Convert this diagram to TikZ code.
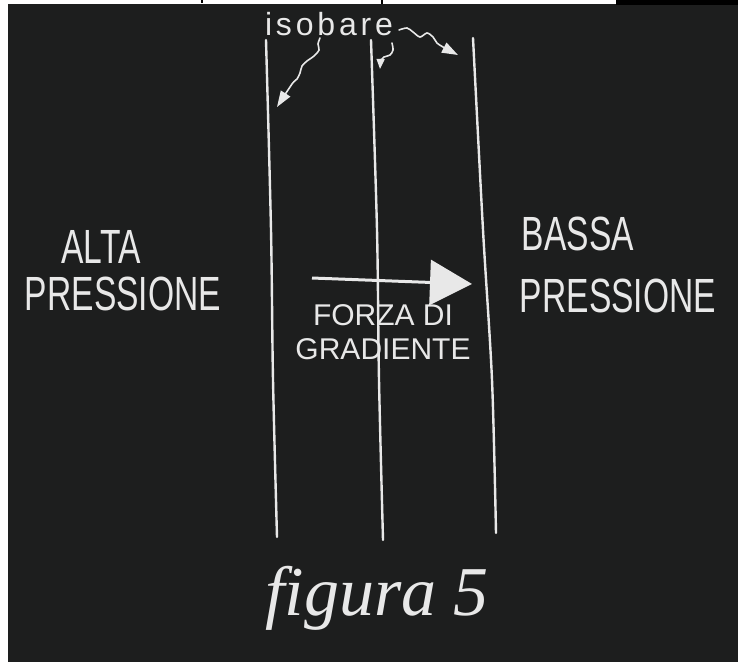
\documentclass[tikz,border=0pt]{standalone}
\usepackage{fontspec}
\usetikzlibrary{arrows.meta}
\newfontfamily\gesso[FakeStretch=0.7]{Liberation Sans}
\newfontfamily\gessopieno{Liberation Sans}
\newfontfamily\gessolargo[LetterSpace=12]{Liberation Sans}
\newfontfamily\corsivo{Liberation Serif}
\definecolor{lavagna}{RGB}{29,30,30}
\definecolor{gessetto}{RGB}{232,232,232}

\begin{document}
\begin{tikzpicture}[x=1pt, y=-1pt]
  \tikzstyle{isobara}=[draw=gessetto, line width=2.4pt, line cap=round]
  \tikzstyle{ricciolo}=[draw=gessetto, line width=1.6pt, line cap=round, -{Triangle[length=16pt,width=11pt]}]
  \tikzstyle{scritta}=[text=gessetto, inner sep=0pt, anchor=base, font=\gesso\fontsize{48}{48}\selectfont]

  % lavagna e bordi
  \fill[lavagna] (0,0) rectangle (738,662);
  \useasboundingbox (0,0) rectangle (738,662);
  \fill[white] (0,0) rectangle (8,662);
  \fill[white] (8,0) rectangle (616,4);
  \fill[black] (616,0) rectangle (738,5);
  \fill[black] (201,0) rectangle (203,3); \fill[black] (381,0) rectangle (383,4);

  % le tre isobare
  \draw[isobara] plot[smooth] coordinates {(266,40) (271,230) (273,380) (277,537)};
  \draw[isobara] plot[smooth] coordinates {(371,40) (377,230) (379,380) (383,540)};
  \draw[isobara] plot[smooth] coordinates {(473,38) (483,230) (492,380) (496,533)};

  \node[scritta, font=\gessolargo\fontsize{32}{32}\selectfont] (isobare) at (329,35) {isobare};
  \draw[ricciolo] plot[smooth] coordinates {(320,38) (318,44) (319,50) (314,56) (307,61) (302,66) (300,73) (297,79) (292,84) (277,107)};
  \draw[ricciolo, -{Triangle[length=10pt,width=8pt]}] plot[smooth] coordinates {(392,43) (393,50) (390,55) (384,57) (381,60) (380,69)};
  \draw[ricciolo] plot[smooth] coordinates {(399,30) (407,28) (413,32) (420,37) (427,33) (433,37) (437,43) (443,47) (458,55)};

  % alta e bassa pressione
  \node[scritta] (alta) at (101,263) {ALTA};
  \node[scritta] (pressionealta) at (123,310) {PRESSIONE};
  \node[scritta] (bassa) at (578,250) {BASSA};
  \node[scritta] (pressionebassa) at (618,312) {PRESSIONE};

  % forza di gradiente
  \coordinate (coda) at (312,278);
  \coordinate (punta) at (472,284);
  \draw[gessetto, line width=3pt, -{Triangle[length=42pt,width=45pt]}] (coda) -- (punta);
  \node[scritta, anchor=center, align=center, font=\gessopieno\fontsize{30}{34}\selectfont] (forza) at (383,332) {FORZA DI\\GRADIENTE};

  \node[scritta, font=\corsivo\itshape\fontsize{70}{70}\selectfont] (figura) at (377,615) {figura 5};
\end{tikzpicture}
\end{document}
